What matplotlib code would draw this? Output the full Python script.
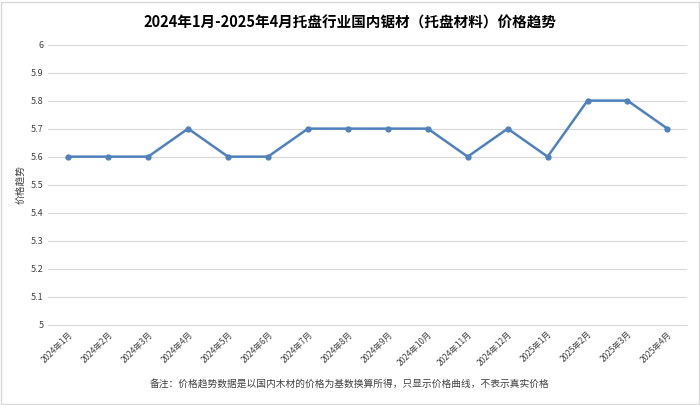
import matplotlib
matplotlib.use("Agg")
import matplotlib.pyplot as plt
from matplotlib.patches import Rectangle

plt.rcParams['font.family'] = ['Noto Sans CJK SC', 'DejaVu Sans']

months = ["2024年1月","2024年2月","2024年3月","2024年4月","2024年5月","2024年6月","2024年7月","2024年8月",
          "2024年9月","2024年10月","2024年11月","2024年12月","2025年1月","2025年2月","2025年3月","2025年4月"]
prices = [5.6,5.6,5.6,5.7,5.6,5.6,5.7,5.7,5.7,5.7,5.6,5.7,5.6,5.8,5.8,5.7]
yticks = [5,5.1,5.2,5.3,5.4,5.5,5.6,5.7,5.8,5.9,6]

fig = plt.figure(figsize=(7,4.05), dpi=100)
fig.patches.append(Rectangle((0.002,0.002),0.996,0.994, transform=fig.transFigure, fill=False, ec='#d9d9d9', lw=1))
ax = fig.add_axes([0.069,0.198,0.913,0.692])
x = range(len(months))
ax.plot(x, prices, color='#4f81bd', lw=1.8, marker='o', ms=3.5)
ax.set_xlim(-0.5, len(months)-0.5)
ax.set_ylim(5,6)
ax.set_yticks(yticks)
ax.set_yticklabels([f"{v:g}" for v in yticks], fontsize=6.5)
ax.set_xticks(list(x))
ax.set_xticklabels(months, rotation=45, ha='right', rotation_mode='anchor', fontsize=6)
ax.grid(axis='y', color='#d9d9d9', lw=0.8)
for s in ['top','right','left']:
    ax.spines[s].set_visible(False)
ax.spines['bottom'].set_color('#d9d9d9')
ax.tick_params(length=0, colors='#404040')
ax.set_ylabel("价格趋势", fontsize=7, color='#404040')
fig.suptitle("2024年1月-2025年4月托盘行业国内锯材（托盘材料）价格趋势", fontsize=10.5, fontweight='bold', y=0.965, x=0.5)
fig.text(0.5, 0.045, "备注：价格趋势数据是以国内木材的价格为基数换算所得，只显示价格曲线，不表示真实价格", ha='center', fontsize=7, color='#404040')
fig.savefig("out.png", dpi=100)
